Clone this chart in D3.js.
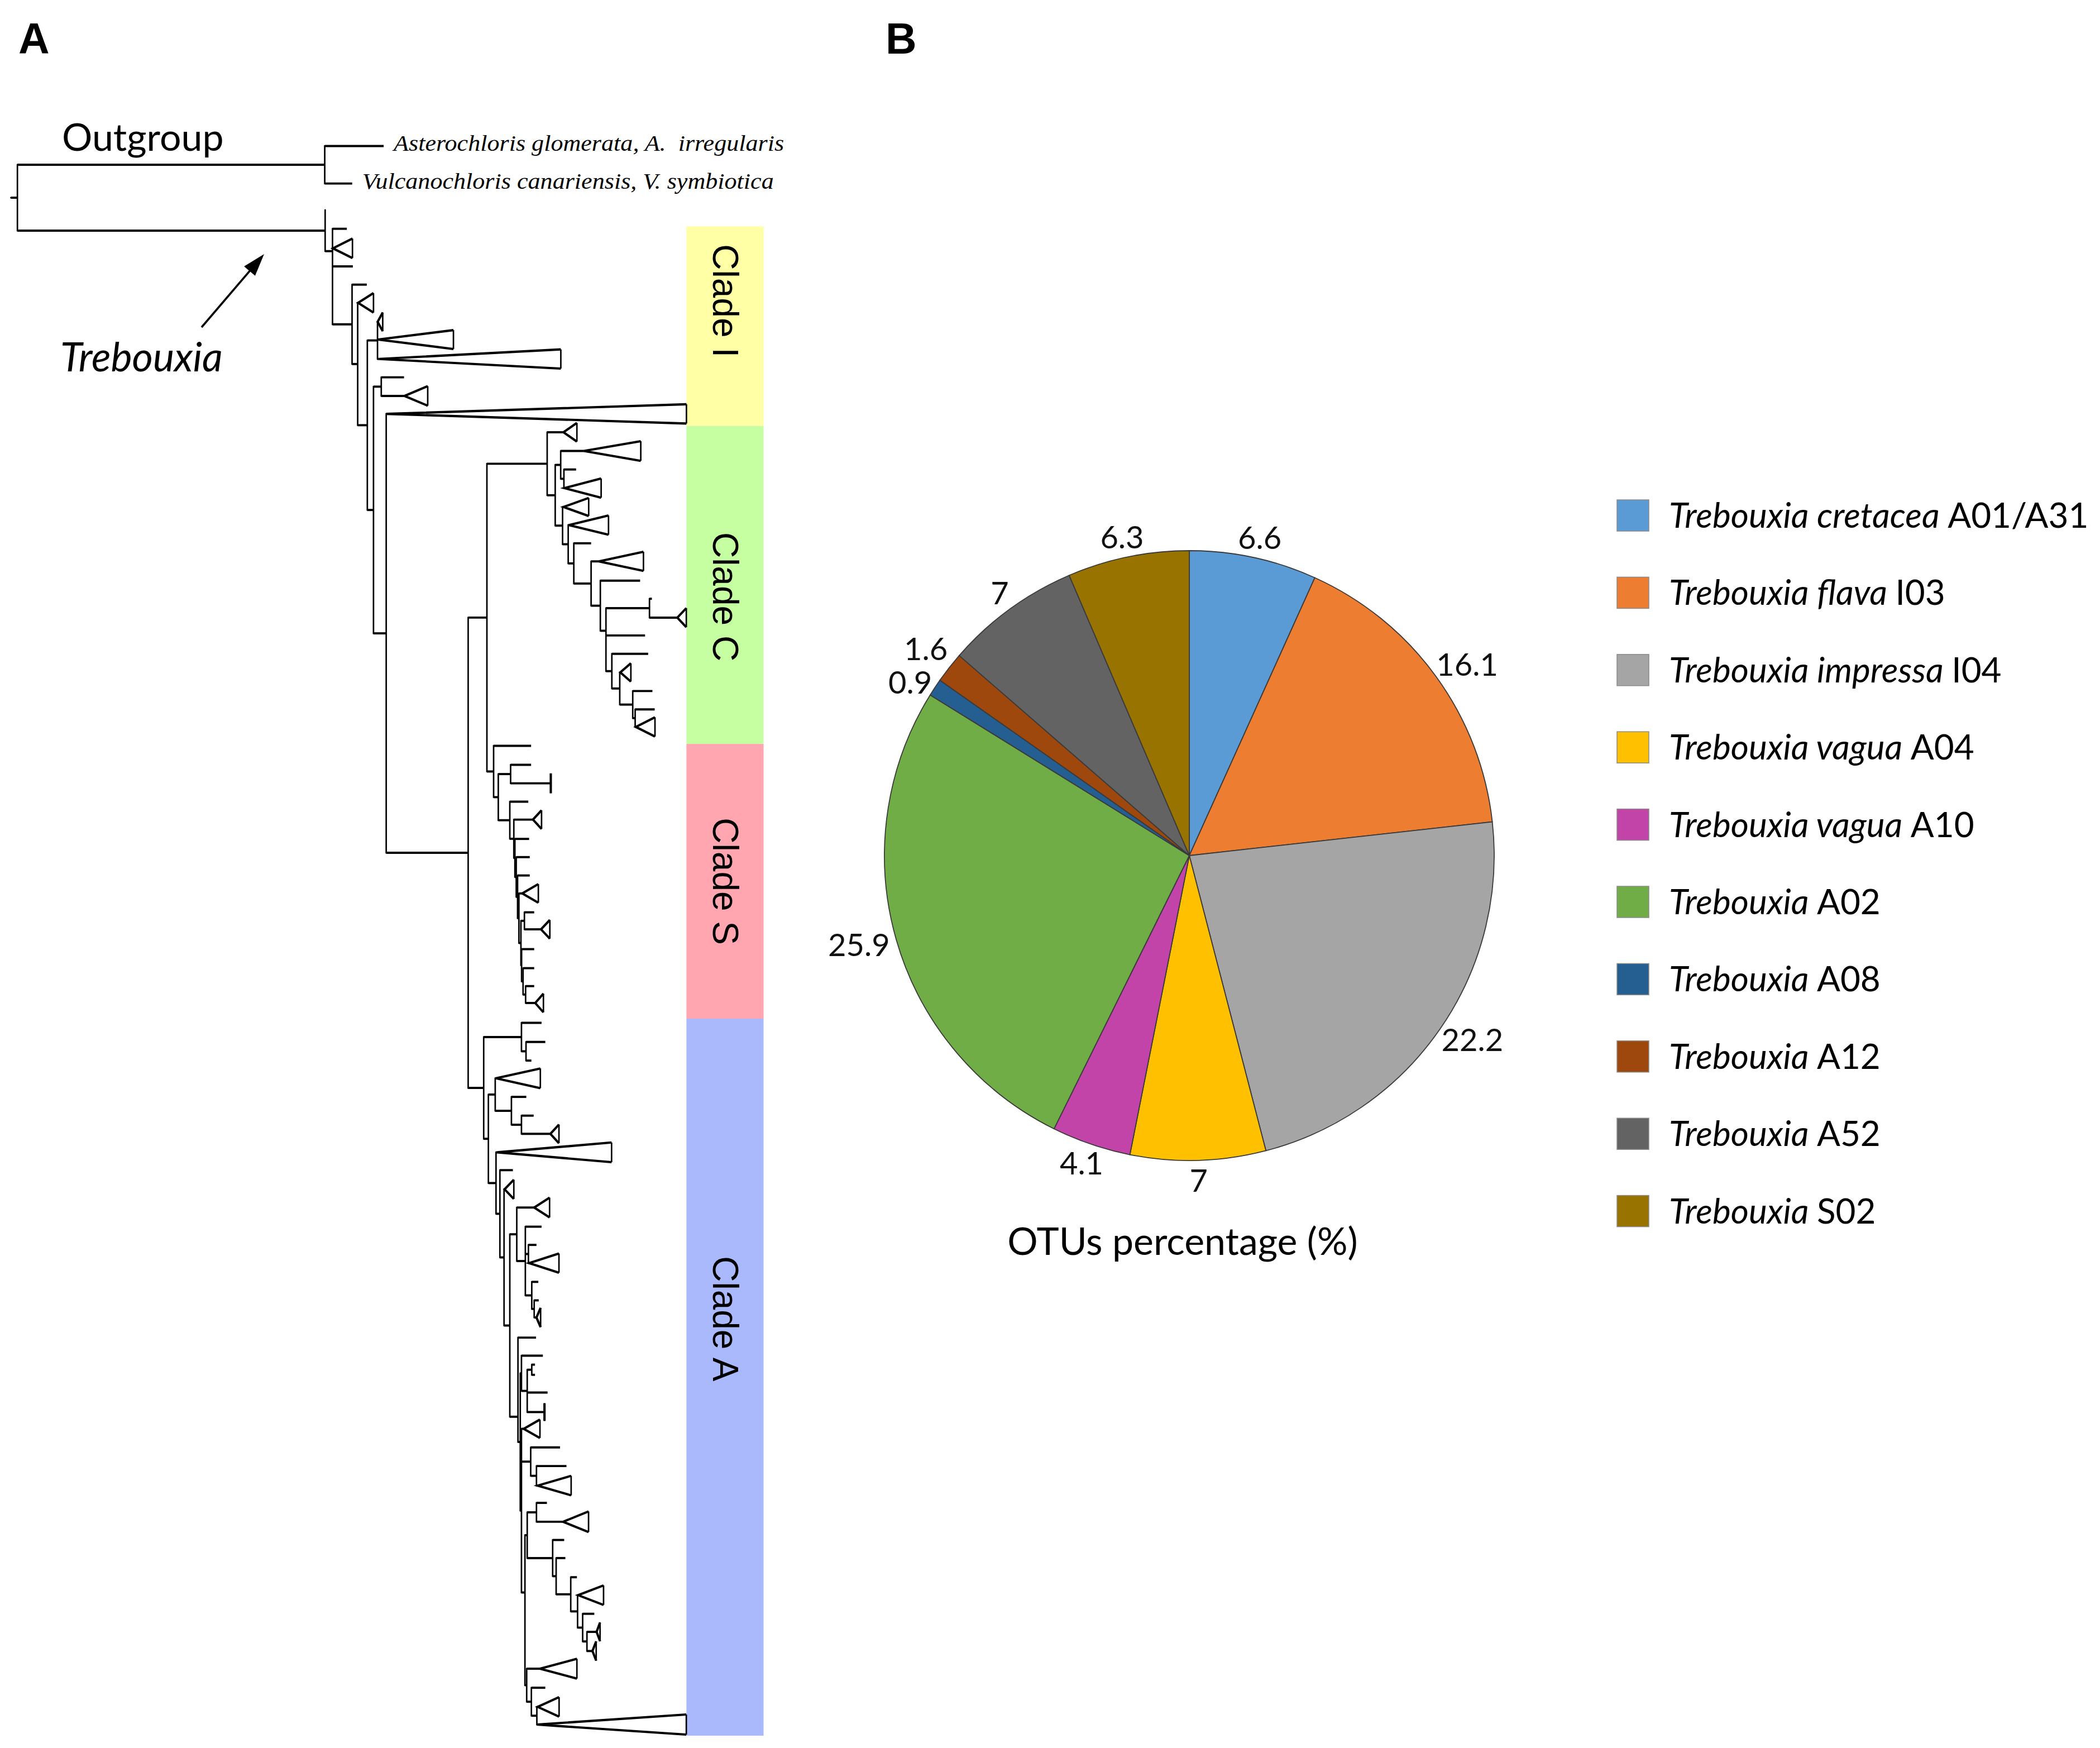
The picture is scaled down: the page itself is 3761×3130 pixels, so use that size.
<!DOCTYPE html>
<html>
<head>
<meta charset="utf-8">
<script src="https://cdn.jsdelivr.net/npm/d3@7"></script>
<style>
  body { margin: 0; background: #fff; }
  text { font-family: Lato, "Open Sans", sans-serif; }
</style>
</head>
<body>
<svg id="fig"></svg>
<script>
// ---------- panel B data ----------
const species = ["Trebouxia cretacea", "Trebouxia flava", "Trebouxia impressa", "Trebouxia vagua",
                 "Trebouxia vagua", "Trebouxia", "Trebouxia", "Trebouxia", "Trebouxia", "Trebouxia"];
const codes = ["A01/A31", "I03", "I04", "A04", "A10", "A02", "A08", "A12", "A52", "S02"];
const otuPct = [6.6, 16.1, 22.2, 7, 4.1, 25.9, 0.9, 1.6, 7, 6.3];
const sliceColors = ["#5b9bd5", "#ed7d31", "#a5a5a5", "#ffc000", "#c344a8",
                     "#70ad47", "#255e91", "#9e480e", "#636363", "#997300"];

// ---------- panel A data ----------
// tree nodes: d = depth of node, tips run to e, collapsed clades are triangles (apex a, end e, half height h)
const tip = (y, e, name) => ({y, e, name});
const tri = (y, a, e, h) => ({y, a, e, h});
const node = (d, c, y) => ({d, c, y});

const outgroup = node(242.5, [
  tip(109, 286.5, "Asterochloris glomerata, A.  irregularis"),
  tip(137, 263, "Vulcanochloris canariensis, V. symbiotica")
]);

const cladeC = node(408.6, [
  tri(322.7, 420.8, 430.8, 7),
  node(414.6, [
    node(418.7, [
      tri(336.7, 436, 478.5, 7.35),
      node(421.1, [tip(350.5, 430.2), tri(364.4, 421.6, 448.9, 7.15)])
    ]),
    node(420.1, [
      tri(378.5, 420.8, 439.6, 6.75),
      node(424.3, [
        tri(392, 424.8, 454.4, 7.2),
        node(428.5, [
          tip(405.6, 441.4),
          node(441.4, [
            tri(419.1, 447.2, 480.5, 7.15),
            node(448.3, [
              tip(433.5, 478),
              node(452.5, [
                node(485, [tip(447, 486.8), tri(461.1, 505.8, 512.5, 7.15)]),
                tip(474.4, 481.7),
                node(456.9, [
                  tip(488.1, 484),
                  node(462.8, [
                    tri(502, 463.2, 471.1, 6.85),
                    node(472.5, [
                      tip(515.9, 487.2),
                      node(474.3, [tip(529.6, 488.9), tri(542.7, 474.8, 489.1, 7.2)])
                    ])
                  ])
                ])
              ], 470.9)
            ])
          ])
        ])
      ])
    ])
  ])
]);

const cladeS = node(368.6, [
  tip(556.8, 396.6),
  node(372.1, [
    node(381.3, [tip(571, 396.6), tri(584.8, 411.3, 411.3, 7.4)]),
    node(380.7, [
      tip(598.5, 394.5),
      node(383.7, [
        tri(611.9, 398, 404.4, 7),
        node(384.5, [
          tip(626.3, 395.1),
          node(385.5, [
            tip(639.9, 395.6),
            node(386.5, [
              tip(653.6, 395.6),
              node(387.5, [
                tri(667, 390, 402, 7),
                node(389, [
                  node(391.6, [tip(681.1, 398.9), tri(693.8, 404, 410.6, 7)]),
                  node(389.5, [
                    tip(708.6, 398.9),
                    node(390.6, [
                      tip(722.8, 398.9),
                      node(392.5, [tip(736.2, 398.9), tri(748.8, 399.7, 405.8, 7)])
                    ])
                  ])
                ])
              ])
            ])
          ])
        ])
      ])
    ])
  ])
]);

const cladeA = node(361.2, [
  node(389.4, [tip(763.6, 404.4), node(392.8, [tip(777.9, 407.2), tip(791.8, 396.8)])]),
  node(364.7, [
    node(369.8, [
      tri(805, 370.4, 403.5, 7.35),
      node(381.9, [tip(818.9, 393), node(389.4, [tip(832.9, 398.5), tri(846.5, 411, 417.4, 7)])])
    ]),
    node(370.4, [
      tri(860.3, 371.2, 456.7, 7.35),
      node(373.3, [
        tip(873.6, 383),
        node(376.4, [
          tri(887.9, 376.8, 383.7, 7.2),
          node(380.7, [
            node(385.9, [
              tri(901.5, 398.9, 410.4, 7.4),
              node(392.3, [
                tip(915.8, 404.4),
                node(394.6, [tip(929.4, 400.6), tri(943, 395.1, 417.4, 7.2)]),
                node(397.1, [tip(957, 402), node(398.9, [tip(970.8, 402.3), tri(983.6, 400.6, 403.7, 7.2)])])
              ])
            ]),
            node(386.8, [
              tip(998.6, 400.3),
              node(388.5, [
                node(389.4, [
                  tip(1012.1, 405.4),
                  node(393.7, [
                    node(397.1, [tip(1018.8, 399.5), tip(1026.4, 399.5)]),
                    tip(1039.6, 408.9),
                    tri(1054.2, 406.6, 406.6, 6.6)
                  ])
                ]),
                node(389.4, [
                  tri(1066.7, 391.1, 403.2, 6.9),
                  node(396.3, [tip(1080.6, 418.2), node(400.6, [tip(1094.5, 423), tri(1109.1, 401.5, 426.5, 7.3)])]),
                  node(392, [
                    node(393.7, [
                      node(400.6, [tip(1122, 408.4), tri(1136.1, 420.5, 439.5, 7.7)]),
                      node(412.7, [
                        tip(1149.7, 421.3),
                        node(415.3, [
                          tip(1163.2, 422.2),
                          node(426.2, [
                            tip(1177.5, 430.8),
                            node(431.3, [
                              tri(1190.9, 431.7, 450.7, 7.3),
                              node(435.1, [
                                tip(1204.8, 443.8),
                                node(438.3, [tri(1218.3, 445.5, 448.1, 7), tri(1232.6, 442.4, 445.2, 7.2)])
                              ])
                            ])
                          ])
                        ])
                      ])
                    ]),
                    node(393.3, [
                      tri(1245.8, 403.2, 430.8, 7.4),
                      node(396.8, [tip(1260, 407.2),
                        node(400.9, [tri(1274.3, 401.5, 417.5, 7.3), tri(1287.5, 400.9, 512.5, 7.5)])])
                    ])
                  ], 1188.9)
                ])
              ])
            ], 1057.7)
          ])
        ])
      ])
    ])
  ])
]);

// clade I and the backbone down to the C / S / A split
const trebouxia = node(242.8, [
  tip(156.9, 243),
  node(248.3, [
    tip(170.8, 259),
    tri(185.4, 248.6, 263.2, 7.3),
    tip(198.9, 263.5),
    node(262.9, [
      tip(212.5, 273.9),
      node(267.1, [
        tri(226.1, 267.4, 278.9, 7.3),
        node(274.3, [
          node(281.9, [tri(240.3, 282, 285.8, 7), tri(253.5, 282.2, 338.6, 7.05), tri(268, 282.9, 418.8, 7.15)]),
          node(278.9, [
            node(284.7, [tip(281.7, 301.7), tri(295.6, 302, 319.4, 7.3)]),
            node(288.4, [
              tri(309, 288.4, 512.6, 7.2),
              node(349.6, [node(363.6, [cladeC, cladeS]), cladeA])
            ])
          ])
        ])
      ])
    ])
  ], 187.5)
]);

const treeRoot = node(8.2, [node(13, [outgroup, trebouxia])]);

const clades = ["Clade I", "Clade C", "Clade S", "Clade A"];
const cladeSpan = [[169, 318], [318, 555.4], [555.4, 760.5], [760.5, 1295.8]];
const cladeLabelAt = [224.6, 445.5, 658, 984.5];
const cladeColors = ["#ffffa6", "#c6ffa2", "#ffa6b0", "#aab9fc"];

// ---------- drawing ----------
const W = 3761, H = 3130;
const svg = d3.select("#fig").attr("width", W).attr("height", H);
svg.append("rect").attr("width", W).attr("height", H).attr("fill", "#fff");

const x = d3.scaleLinear().domain([0, 600]).range([0, 1439]);
const y = d3.scaleLinear().domain([0, 1305]).range([0, 3130]);

// clade bars
const bx0 = x(512.6), bx1 = x(570.2);
svg.selectAll("rect.clade").data(clades).join("rect")
  .attr("class", "clade")
  .attr("x", bx0).attr("width", bx1 - bx0)
  .attr("y", (d, i) => y(cladeSpan[i][0]))
  .attr("height", (d, i) => y(cladeSpan[i][1]) - y(cladeSpan[i][0]))
  .attr("fill", (d, i) => cladeColors[i]);

svg.selectAll("text.clade").data(clades).join("text")
  .attr("class", "clade")
  .attr("transform", (d, i) => `translate(${(bx0 + bx1) / 2 + 2},${y(cladeLabelAt[i])}) rotate(90)`)
  .attr("text-anchor", "middle").attr("dy", "0.36em")
  .style("font-family", "'Liberation Sans', Arial, sans-serif")
  .style("font-size", "64px")
  .text(d => d);

// tree
const root = d3.hierarchy(treeRoot, d => d.c);
root.eachAfter(n => {
  n.yy = n.children
    ? (n.data.y != null ? n.data.y : (n.children[0].yy + n.children[n.children.length - 1].yy) / 2)
    : n.data.y;
});

const tree = svg.append("g").attr("fill", "none").attr("stroke", "#000");
const inner = root.descendants().filter(n => n.children);

tree.selectAll("line.v").data(inner).join("line")
  .attr("class", "v")
  .attr("x1", n => x(n.data.d)).attr("x2", n => x(n.data.d))
  .attr("y1", n => y(d3.min([n.yy, ...n.children.map(c => c.yy)])))
  .attr("y2", n => y(d3.max([n.yy, ...n.children.map(c => c.yy)])))
  .attr("stroke-width", 2.7)
  .attr("stroke-linecap", "square");

tree.selectAll("line.h").data(root.links()).join("line")
  .attr("class", "h")
  .attr("x1", l => x(l.source.data.d))
  .attr("x2", l => x(l.target.children ? l.target.data.d : (l.target.data.a != null ? l.target.data.a : l.target.data.e)))
  .attr("y1", l => y(l.target.yy)).attr("y2", l => y(l.target.yy))
  .attr("stroke-width", 3.9);

const tris = root.leaves().filter(n => n.data.a != null);
tree.selectAll("path.tri").data(tris).join("path")
  .attr("class", "tri")
  .attr("d", n => `M${x(n.data.e)},${y(n.yy - n.data.h)}L${x(n.data.a)},${y(n.yy)}L${x(n.data.e)},${y(n.yy + n.data.h)}`)
  .attr("stroke-width", 4.1);
tree.selectAll("line.triend").data(tris).join("line")
  .attr("class", "triend")
  .attr("x1", n => x(n.data.e)).attr("x2", n => x(n.data.e))
  .attr("y1", n => y(n.yy - n.data.h)).attr("y2", n => y(n.yy + n.data.h))
  .attr("stroke-width", 2.7);

// outgroup tip names
const named = root.leaves().filter(n => n.data.name);
svg.selectAll("text.tip").data(named).join("text")
  .attr("class", "tip")
  .attr("x", n => x(n.data.e) + 18)
  .attr("y", n => y(n.yy) + 9)
  .style("font-family", "'Liberation Serif', 'Times New Roman', serif")
  .style("font-style", "italic")
  .style("font-size", "41px")
  .style("white-space", "pre")
  .attr("textLength", (n, i) => [699, 737][i])
  .attr("lengthAdjust", "spacingAndGlyphs")
  .text(n => n.data.name);

svg.append("text").attr("x", 111).attr("y", 270)
  .style("font-size", "68px").text("Outgroup");
svg.append("text").attr("x", 108).attr("y", 665)
  .style("font-size", "72px").style("font-style", "italic").text("Trebouxia");

// arrow pointing at the Trebouxia branch
const a0 = [361, 586], a1 = [473, 455];
const ang = Math.atan2(a1[1] - a0[1], a1[0] - a0[0]);
const hl = 40, hw = 13;
svg.append("line")
  .attr("x1", a0[0]).attr("y1", a0[1])
  .attr("x2", a1[0] - hl * 0.8 * Math.cos(ang)).attr("y2", a1[1] - hl * 0.8 * Math.sin(ang))
  .attr("stroke", "#000").attr("stroke-width", 3.6);
svg.append("path")
  .attr("d", `M${a1[0]},${a1[1]}` +
    `L${a1[0] - hl * Math.cos(ang) + hw * Math.sin(ang)},${a1[1] - hl * Math.sin(ang) - hw * Math.cos(ang)}` +
    `L${a1[0] - hl * Math.cos(ang) - hw * Math.sin(ang)},${a1[1] - hl * Math.sin(ang) + hw * Math.cos(ang)}Z`)
  .attr("fill", "#000");

// panel letters
svg.selectAll("text.panel").data(["A", "B"]).join("text")
  .attr("class", "panel")
  .attr("x", (d, i) => [33, 1586][i]).attr("y", 96)
  .style("font-family", "'Liberation Sans', Arial, sans-serif")
  .style("font-weight", "bold").style("font-size", "77px")
  .text(d => d);

// ---------- pie ----------
const cx = 2130, cy = 1532, R = 546;
const arcs = d3.pie().sort(null).value(d => d)(otuPct);
const arc = d3.arc().innerRadius(0).outerRadius(R);
const pieG = svg.append("g").attr("transform", `translate(${cx},${cy})`);
pieG.selectAll("path").data(arcs).join("path")
  .attr("d", arc)
  .attr("fill", (d, i) => sliceColors[i])
  .attr("stroke", "#3a3a3a").attr("stroke-width", 1.8);

const lab = pieG.selectAll("text").data(arcs).join("text")
  .attr("text-anchor", "middle").attr("dy", "0.36em")
  .style("font-size", "56px").attr("fill", "#111")
  .text(d => d.data);
const pos = [];
lab.each(function (d) {
  const t = (d.startAngle + d.endAngle) / 2;
  const w = this.getComputedTextLength(), h = 44;
  const s = Math.sin(t), c = -Math.cos(t);
  pos.push({x: (R + 14) * s + w / 2 * s, y: (R + 14) * c + h / 2 * c, w});
});
// push apart labels that collide
for (let k = 0; k < 30; k++) {
  for (let i = 0; i < pos.length; i++) {
    for (let j = i + 1; j < pos.length; j++) {
      const p = pos[i], q = pos[j];
      const gap = 60 - Math.abs(p.y - q.y);
      if (gap > 0 && Math.abs(p.x - q.x) < (p.w + q.w) / 2 + 10) {
        const sgn = p.y < q.y ? -1 : 1;
        p.y += sgn * gap / 2; q.y -= sgn * gap / 2;
      }
    }
  }
}
lab.attr("x", (d, i) => pos[i].x).attr("y", (d, i) => pos[i].y);

svg.append("text").attr("x", 2118).attr("y", 2247)
  .attr("text-anchor", "middle").style("font-size", "68px")
  .text("OTUs percentage (%)");

// ---------- legend ----------
const leg = svg.append("g");
const rowY = i => 923 + i * 138.4;
leg.selectAll("rect").data(species).join("rect")
  .attr("x", 2896).attr("width", 57)
  .attr("y", (d, i) => rowY(i) - 28).attr("height", 56)
  .attr("fill", (d, i) => sliceColors[i])
  .attr("stroke", "#8a8a8a").attr("stroke-width", 1.5);
const lt = leg.selectAll("text").data(species).join("text")
  .attr("x", 2989).attr("y", (d, i) => rowY(i) + 22)
  .style("font-size", "62px");
lt.append("tspan").style("font-style", "italic").text(d => d + " ");
lt.append("tspan").text((d, i) => codes[i]);
</script>
</body>
</html>
